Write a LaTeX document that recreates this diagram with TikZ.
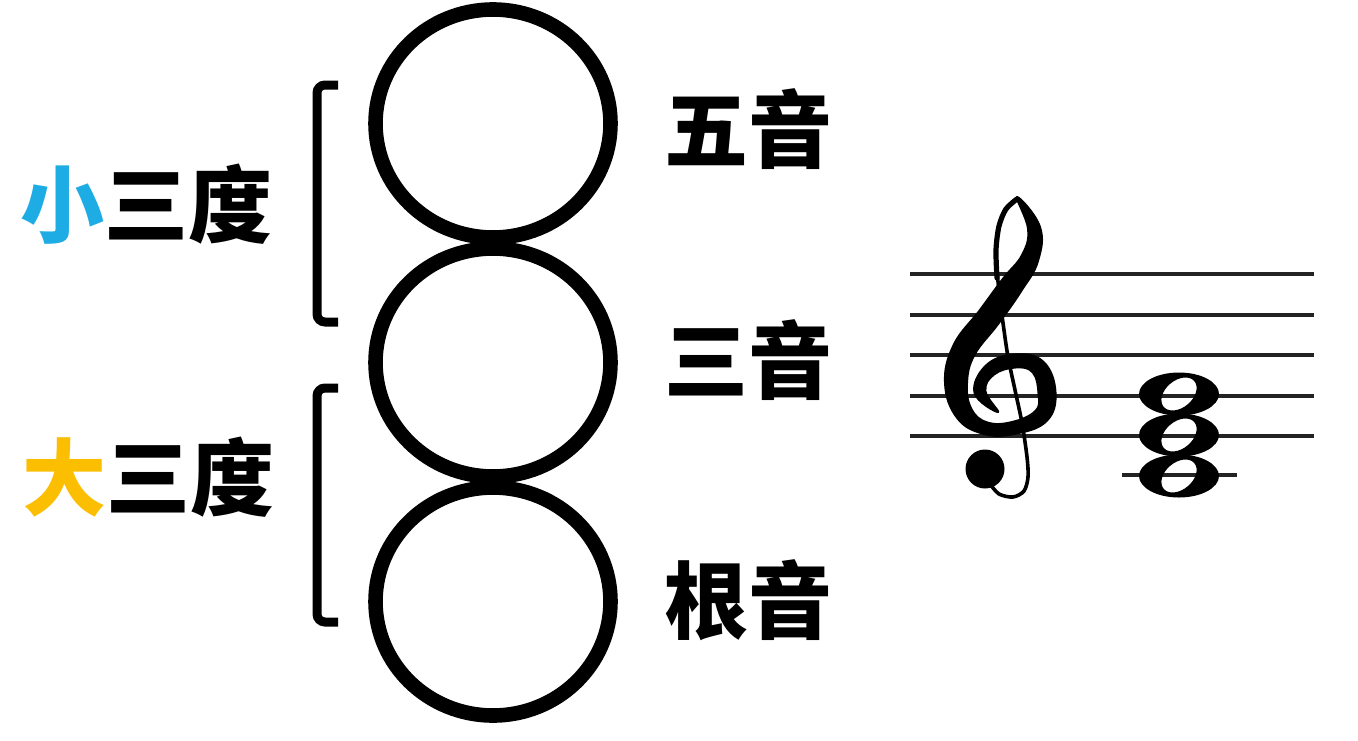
\documentclass[tikz,border=0pt]{standalone}
\usepackage{fontspec}
\newfontfamily\cjk{Noto Sans CJK SC}
\definecolor{minorblue}{RGB}{30,172,228}
\definecolor{majoryellow}{RGB}{252,190,0}
\definecolor{staffgray}{RGB}{35,35,35}
\tikzset{
  label/.style={font=\cjk\bfseries\fontsize{42pt}{42pt}\selectfont, inner sep=0pt, anchor=center},
  ring/.style={line width=7.3pt, draw=black},
  bracketline/.style={line width=4.5pt, rounded corners=4pt},
  staffline/.style={line width=1.6pt, draw=staffgray},
  wholenote/.pic={
    \fill[even odd rule] (0,0) ellipse [x radius=40, y radius=21.5]
      {[rotate=40] (0,0) ellipse [x radius=20, y radius=13.5]};
  }
}
\begin{document}
\begin{tikzpicture}[x=0.5pt,y=-0.5pt]
\useasboundingbox (0,0) rectangle (1358,740);
\fill[white] (0,0) rectangle (1358,740);

% circles
\draw[ring] (493,123.5) ellipse [x radius=117.5, y radius=114];
\draw[ring] (493,362.5) ellipse [x radius=117.5, y radius=114];
\draw[ring] (493,601.5) ellipse [x radius=117.5, y radius=114];

% brackets
\coordinate (b1a) at (338,85);
\coordinate (b1b) at (338,322);
\coordinate (b2a) at (338,388);
\coordinate (b2b) at (338,622);
\draw[bracketline] (b1a) -- (317,85) -- (317,322) -- (b1b);
\draw[bracketline] (b2a) -- (317,388) -- (317,622) -- (b2b);

% left labels
\node[label] (minor) at (146.5,204) {\textcolor{minorblue}{小}三度};
\node[label] (major) at (148,477) {\textcolor{majoryellow}{大}三度};

% right labels
\node[label] (fifth) at (748,129) {五音};
\node[label] (third) at (748,360) {三音};
\node[label] (root) at (748,600) {根音};

% staff
\foreach \yy in {274,315,355,396,436} {
  \draw[staffline] (910,\yy) -- (1314,\yy);
}
\draw[staffline] (1122,475) -- (1237,475);

% chord
\pic at (1179,394) {wholenote};
\pic at (1179,435) {wholenote};
\pic at (1179,476) {wholenote};

% treble clef body
\filldraw[line width=1pt, line join=round] plot[smooth cycle, tension=0.7] coordinates {
 (1017,197) (1039.9,226.8) (1037.9,261.1) (1021.0,291.3) (998.2,323.8)
 (974.3,355.1) (967,383) (971.1,408.4) (986.8,422.3) (1011.7,422.1)
 (1035.6,410.8) (1038.5,393.5) (1032.7,372.3) (1015.4,367.5) (994.0,374.5)
 (985.4,391.0) (998,412) (974.6,393.0) (986.0,365.5) (1014.6,354.5)
 (1043.3,361.7) (1055.5,392.5) (1046.4,421.2) (1014.3,433.9) (983.2,433.7)
 (956.9,417.6) (945,383) (953.7,344.9) (979.8,310.2) (1003.0,278.7)
 (1022.1,254.9) (1028.1,229.2)};
% clef thin line
\draw[line width=2.6pt, line cap=round] plot[smooth] coordinates
 {(1017,199) (1006,209) (999,226) (996,250) (997,278)};
\draw[line width=1.8pt, line cap=round] plot[smooth] coordinates
 {(997,272) (1000,300) (1003,323) (1008,357) (1015,390) (1022,423)
  (1027,457) (1028,477) (1024,491) (1013,497) (999,494) (990,484)};
\fill (985,469) circle (19.5);
\end{tikzpicture}
\end{document}
